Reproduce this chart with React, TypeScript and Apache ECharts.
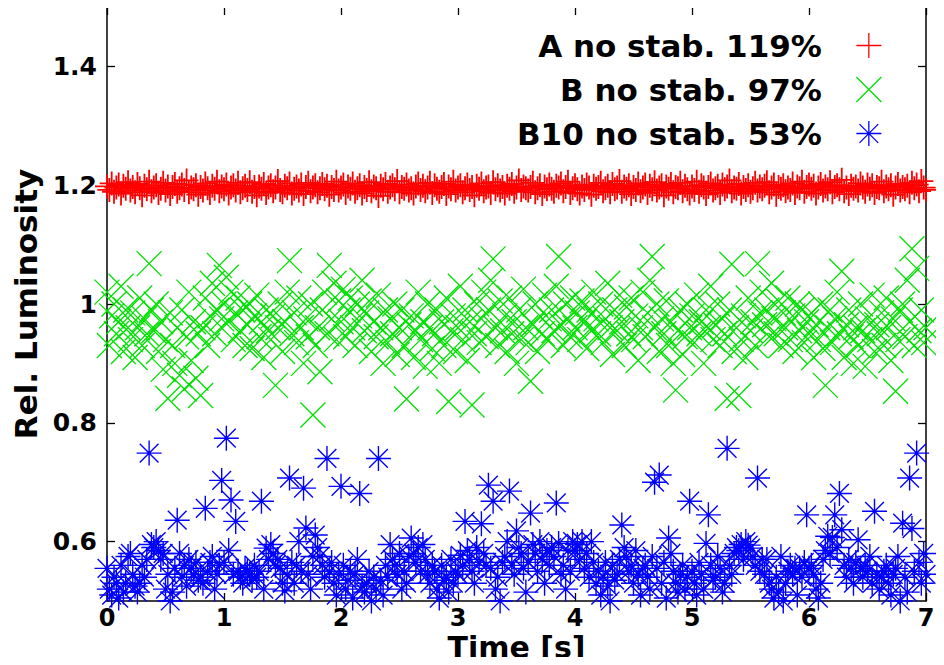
import { useEffect, useRef } from "react";
import * as echarts from "echarts";

// sampling step of the time series [s]
const TIME_STEP = 0.02;
const xTickValues = [0, 1, 2, 3, 4, 5, 6, 7];
const yTickValues = [0.6, 0.8, 1, 1.2, 1.4];
const seriesNames = ["A no stab. 119%", "B no stab. 97%", "B10 no stab. 53%"];
const seriesColors = ["#ff0000", "#00e000", "#0000ff"];

// A no stab. (red +)
const lumA = [
  1.198, 1.192, 1.203, 1.189, 1.196, 1.201, 1.186, 1.199, 1.194, 1.205,
  1.191, 1.197, 1.188, 1.202, 1.195, 1.183, 1.199, 1.193, 1.206, 1.19,
  1.196, 1.2, 1.187, 1.194, 1.204, 1.191, 1.198, 1.185, 1.197, 1.202,
  1.189, 1.195, 1.201, 1.192, 1.208, 1.188, 1.196, 1.193, 1.2, 1.184,
  1.197, 1.191, 1.203, 1.195, 1.187, 1.199, 1.194, 1.206, 1.19, 1.198,
  1.193, 1.201, 1.186, 1.196, 1.2, 1.191, 1.204, 1.188, 1.195, 1.199,
  1.192, 1.205, 1.189, 1.197, 1.183, 1.198, 1.194, 1.202, 1.187, 1.196,
  1.2, 1.19, 1.196, 1.207, 1.192, 1.188, 1.199, 1.195, 1.203, 1.186,
  1.194, 1.198, 1.191, 1.201, 1.185, 1.197, 1.204, 1.19, 1.196, 1.2,
  1.188, 1.195, 1.202, 1.193, 1.199, 1.184, 1.197, 1.192, 1.206, 1.191,
  1.196, 1.201, 1.187, 1.198, 1.194, 1.203, 1.189, 1.195, 1.2, 1.186,
  1.197, 1.192, 1.205, 1.19, 1.198, 1.195, 1.182, 1.199, 1.193, 1.202,
  1.189, 1.196, 1.2, 1.193, 1.207, 1.188, 1.197, 1.194, 1.201, 1.191,
  1.195, 1.186, 1.198, 1.203, 1.192, 1.199, 1.19, 1.196, 1.204, 1.187,
  1.2, 1.194, 1.189, 1.197, 1.202, 1.185, 1.198, 1.193, 1.206, 1.191,
  1.196, 1.2, 1.188, 1.195, 1.201, 1.192, 1.197, 1.183, 1.199, 1.194,
  1.203, 1.19, 1.196, 1.198, 1.187, 1.205, 1.193, 1.2, 1.191, 1.197,
  1.186, 1.199, 1.194, 1.202, 1.189, 1.196, 1.208, 1.192, 1.198, 1.195,
  1.191, 1.197, 1.204, 1.188, 1.195, 1.2, 1.185, 1.198, 1.193, 1.201,
  1.194, 1.189, 1.199, 1.196, 1.203, 1.19, 1.197, 1.206, 1.187, 1.195,
  1.2, 1.193, 1.186, 1.198, 1.192, 1.201, 1.196, 1.184, 1.199, 1.194,
  1.197, 1.204, 1.19, 1.195, 1.199, 1.188, 1.202, 1.193, 1.196, 1.207,
  1.189, 1.198, 1.194, 1.2, 1.185, 1.197, 1.192, 1.203, 1.19, 1.196,
  1.201, 1.187, 1.199, 1.193, 1.205, 1.191, 1.196, 1.2, 1.183, 1.198,
  1.194, 1.202, 1.188, 1.197, 1.195, 1.204, 1.19, 1.199, 1.193, 1.186,
  1.198, 1.192, 1.206, 1.189, 1.2, 1.196, 1.185, 1.197, 1.203, 1.191,
  1.195, 1.199, 1.187, 1.201, 1.193, 1.198, 1.208, 1.19, 1.196, 1.194,
  1.202, 1.186, 1.197, 1.192, 1.2, 1.189, 1.195, 1.204, 1.191, 1.198,
  1.193, 1.199, 1.205, 1.188, 1.196, 1.201, 1.184, 1.197, 1.194, 1.2,
  1.19, 1.196, 1.192, 1.203, 1.187, 1.198, 1.195, 1.206, 1.189, 1.197,
  1.201, 1.194, 1.199, 1.186, 1.196, 1.202, 1.191, 1.198, 1.193, 1.205,
  1.188, 1.197, 1.2, 1.193, 1.209, 1.19, 1.196, 1.185, 1.199, 1.194,
  1.198, 1.191, 1.203, 1.196, 1.189, 1.201, 1.194, 1.2, 1.187, 1.197,
  1.195, 1.206, 1.19, 1.198, 1.193, 1.2, 1.184, 1.196, 1.202, 1.191,
  1.197, 1.193, 1.199, 1.188, 1.204, 1.195, 1.201, 1.19, 1.207, 1.196,
  1.192,
];

// B no stab. (green x)
const lumB = [
  1.02, 0.93, 0.98, 1.0, 0.95, 0.97, 1.03, 0.92, 0.99, 0.96,
  0.94, 0.985, 0.91, 0.96, 1.01, 0.93, 0.975, 0.95, 1.068, 0.99,
  0.955, 1.0, 0.92, 0.97, 0.89, 0.94, 0.841, 0.985, 0.93, 0.9,
  0.96, 0.88, 0.99, 0.857, 0.945, 1.02, 0.905, 0.97, 0.875, 0.95,
  0.846, 0.96, 1.01, 0.93, 0.98, 1.035, 0.95, 0.99, 1.065, 0.975,
  1.0, 1.045, 0.97, 1.02, 0.94, 0.985, 1.01, 0.955, 0.99, 0.93,
  0.965, 1.0, 0.925, 0.98, 1.015, 0.945, 0.97, 0.91, 0.99, 0.955,
  0.94, 0.98, 0.863, 0.96, 1.0, 0.92, 0.97, 1.02, 1.073, 0.95,
  0.985, 0.935, 1.01, 0.96, 0.9, 0.975, 0.945, 1.0, 0.813, 0.93,
  0.96, 0.886, 0.99, 1.02, 0.95, 1.065, 0.975, 1.035, 0.94, 1.005,
  0.97, 1.025, 0.945, 0.99, 1.01, 0.96, 0.93, 1.0, 0.98, 1.04,
  0.955, 0.985, 1.005, 0.92, 0.97, 0.945, 1.015, 0.96, 0.9, 0.99,
  0.935, 0.975, 0.95, 1.0, 0.915, 0.96, 0.99, 0.93, 0.84, 0.965,
  0.98, 0.91, 0.955, 1.02, 0.94, 0.97, 0.895, 1.0, 0.96, 0.925,
  0.95, 0.99, 0.9, 0.97, 0.93, 1.01, 0.836, 0.955, 0.98, 0.92,
  0.96, 1.03, 0.94, 0.99, 0.905, 0.97, 0.83, 0.95, 1.0, 0.935,
  0.975, 1.02, 0.945, 0.99, 1.04, 1.076, 0.96, 0.93, 1.005, 0.955,
  0.98, 0.92, 1.01, 0.95, 0.97, 0.9, 0.99, 0.94, 1.025, 0.96,
  0.935, 0.87, 0.965, 1.0, 0.92, 0.98, 0.95, 1.015, 0.94, 0.975,
  0.99, 0.955, 1.03, 1.08, 0.965, 0.93, 1.0, 0.975, 0.945, 1.01,
  0.96, 0.985, 0.94, 1.005, 0.97, 0.925, 0.99, 0.955, 1.02, 0.975,
  0.95, 1.0, 0.935, 0.975, 1.035, 0.96, 0.915, 0.99, 0.955, 1.015,
  0.97, 0.93, 0.995, 0.95, 1.01, 0.94, 0.98, 0.905, 0.96, 1.02,
  0.945, 0.985, 1.04, 1.08, 0.96, 1.0, 0.92, 0.975, 0.95, 1.005,
  0.93, 0.97, 0.9, 0.855, 0.955, 0.99, 0.915, 0.945, 1.0, 0.96,
  0.98, 0.935, 1.015, 0.95, 0.97, 0.9, 0.99, 0.96, 1.03, 0.94,
  0.965, 1.0, 0.93, 0.975, 0.95, 0.841, 0.99, 1.067, 0.92, 0.96,
  0.846, 0.94, 0.98, 0.91, 1.01, 0.955, 0.97, 0.93, 1.068, 0.985,
  1.02, 0.965, 0.99, 0.945, 1.035, 0.975, 0.95, 1.005, 0.93, 0.985,
  0.96, 1.01, 0.94, 0.98, 0.92, 1.0, 0.955, 0.99, 0.935, 0.97,
  0.95, 0.985, 0.91, 0.965, 0.94, 1.0, 0.925, 0.863, 0.96, 0.99,
  0.935, 0.975, 1.02, 0.95, 1.055, 0.91, 0.965, 0.99, 0.945, 0.9,
  0.96, 0.93, 1.0, 0.955, 0.895, 0.975, 0.94, 1.015, 0.92, 0.965,
  0.95, 0.985, 0.93, 1.01, 0.96, 0.905, 0.975, 0.853, 0.94, 0.99,
  1.0, 0.945, 1.04, 0.97, 1.093, 0.93, 1.06, 0.955, 0.99, 0.935,
  0.96,
];

// B10 no stab. (blue *)
const lumB10 = [
  0.555, 0.52, 0.51, 0.54, 0.53, 0.505, 0.56, 0.515, 0.53, 0.575,
  0.58, 0.545, 0.525, 0.515, 0.53, 0.56, 0.54, 0.57, 0.749, 0.595,
  0.59, 0.6, 0.585, 0.57, 0.58, 0.52, 0.545, 0.5, 0.515, 0.555,
  0.636, 0.58, 0.54, 0.56, 0.525, 0.57, 0.555, 0.545, 0.565, 0.535,
  0.54, 0.53, 0.656, 0.55, 0.565, 0.575, 0.52, 0.545, 0.56, 0.703,
  0.565, 0.774, 0.585, 0.67, 0.545, 0.634, 0.55, 0.54, 0.53, 0.555,
  0.55, 0.545, 0.535, 0.56, 0.54, 0.55, 0.668, 0.52, 0.589, 0.57,
  0.595, 0.58, 0.56, 0.57, 0.555, 0.53, 0.517, 0.545, 0.707, 0.565,
  0.53, 0.56, 0.6, 0.55, 0.69, 0.623, 0.545, 0.52, 0.575, 0.611,
  0.59, 0.575, 0.56, 0.54, 0.74, 0.55, 0.565, 0.53, 0.51, 0.545,
  0.693, 0.56, 0.52, 0.535, 0.55, 0.505, 0.545, 0.57, 0.681, 0.525,
  0.515, 0.53, 0.55, 0.5, 0.54, 0.52, 0.74, 0.535, 0.51, 0.56,
  0.54, 0.595, 0.57, 0.56, 0.545, 0.58, 0.52, 0.55, 0.53, 0.575,
  0.606, 0.58, 0.565, 0.59, 0.55, 0.595, 0.57, 0.545, 0.53, 0.56,
  0.55, 0.52, 0.505, 0.56, 0.535, 0.54, 0.515, 0.57, 0.53, 0.55,
  0.545, 0.577, 0.56, 0.634, 0.585, 0.57, 0.55, 0.53, 0.59, 0.565,
  0.63, 0.58, 0.56, 0.695, 0.555, 0.668, 0.52, 0.54, 0.5, 0.565,
  0.575, 0.6, 0.685, 0.56, 0.545, 0.618, 0.59, 0.58, 0.555, 0.515,
  0.565, 0.648, 0.595, 0.58, 0.55, 0.6, 0.57, 0.53, 0.585, 0.56,
  0.59, 0.575, 0.665, 0.597, 0.545, 0.56, 0.52, 0.585, 0.55, 0.6,
  0.585, 0.595, 0.57, 0.6, 0.555, 0.58, 0.54, 0.6, 0.565, 0.53,
  0.55, 0.51, 0.54, 0.565, 0.525, 0.5, 0.56, 0.535, 0.545, 0.57,
  0.628, 0.59, 0.575, 0.55, 0.56, 0.53, 0.585, 0.545, 0.51, 0.555,
  0.56, 0.54, 0.52, 0.575, 0.7, 0.555, 0.712, 0.53, 0.565, 0.505,
  0.606, 0.58, 0.55, 0.53, 0.515, 0.545, 0.56, 0.52, 0.54, 0.668,
  0.55, 0.53, 0.51, 0.565, 0.545, 0.52, 0.597, 0.645, 0.56, 0.535,
  0.54, 0.575, 0.555, 0.515, 0.53, 0.757, 0.56, 0.545, 0.58, 0.59,
  0.585, 0.595, 0.57, 0.6, 0.594, 0.589, 0.575, 0.56, 0.707, 0.55,
  0.57, 0.545, 0.57, 0.53, 0.52, 0.505, 0.54, 0.515, 0.575, 0.5,
  0.53, 0.55, 0.56, 0.545, 0.555, 0.51, 0.555, 0.54, 0.565, 0.645,
  0.555, 0.56, 0.545, 0.52, 0.505, 0.53, 0.57, 0.585, 0.609, 0.58,
  0.607, 0.645, 0.59, 0.681, 0.62, 0.56, 0.54, 0.57, 0.555, 0.53,
  0.565, 0.603, 0.555, 0.54, 0.56, 0.55, 0.575, 0.53, 0.651, 0.545,
  0.52, 0.54, 0.55, 0.56, 0.53, 0.51, 0.545, 0.555, 0.575, 0.5,
  0.631, 0.54, 0.515, 0.707, 0.622, 0.55, 0.749, 0.565, 0.53, 0.58,
  0.545,
];

const PLUS = "path://M0 12H24M12 0V24";
const CROSS = "path://M0 0L24 24M24 0L0 24";
const STAR = "path://M0 12H24M12 0V24M3 3L21 21M21 3L3 21";
const symbols = [PLUS, CROSS, STAR];
const lineWidths = [1.8, 1.3, 1.4];

const FONT = "DejaVu Sans";

function toPoints(values: number[]) {
  return values.map((v, i) => [Math.round(i * TIME_STEP * 100) / 100, v]);
}

export default function App() {
  const ref = useRef<HTMLDivElement>(null);
  useEffect(() => {
    if (!ref.current) return;
    const chart = echarts.init(ref.current, undefined, { renderer: "svg" });
    const lineStyle = { color: "#000", width: 1.5 };
    const tickStyle = { color: "#000", width: 1.3 };
    const labelFont = { fontFamily: FONT, fontWeight: "bold" as const, color: "#000" };
    const data = [lumA, lumB, lumB10];
    chart.setOption({
      animation: false,
      backgroundColor: "#fff",
      grid: { left: 107, right: 18, top: 7, bottom: 64, containLabel: false, outerBoundsMode: "none" },
      legend: {
        orient: "vertical",
        right: 57,
        top: 25,
        align: "right",
        itemWidth: 84,
        itemHeight: 25,
        itemGap: 13,
        selectedMode: false,
        textStyle: { ...labelFont, fontSize: 31 },
        data: seriesNames.map((name, i) => ({
          name,
          icon: symbols[i],
          itemStyle: { color: "transparent", borderColor: seriesColors[i], borderWidth: 1.3 },
        })),
      },
      xAxis: [
        {
          type: "value",
          min: 0,
          max: 7,
          interval: 1,
          position: "bottom",
          axisLine: { show: true, onZero: false, lineStyle },
          axisTick: { show: true, inside: true, length: 8, lineStyle: tickStyle, customValues: xTickValues },
          axisLabel: { ...labelFont, fontSize: 24, margin: 5, lineHeight: 24, customValues: xTickValues },
          splitLine: { show: false },
          name: "Time [s]",
          nameLocation: "middle",
          nameGap: 31,
          nameMoveOverlap: false,
          nameTextStyle: { ...labelFont, fontSize: 30, lineHeight: 30 },
        },
        {
          type: "value",
          min: 0,
          max: 7,
          interval: 1,
          position: "top",
          axisLine: { show: true, onZero: false, lineStyle },
          axisTick: { show: true, inside: true, length: 8, lineStyle: tickStyle, customValues: xTickValues },
          axisLabel: { show: false },
          splitLine: { show: false },
        },
      ],
      yAxis: [
        {
          type: "value",
          min: 0.5,
          max: 1.5,
          position: "left",
          axisLine: { show: true, onZero: false, lineStyle },
          axisTick: { show: true, inside: true, length: 8, lineStyle: tickStyle, customValues: yTickValues },
          axisLabel: { ...labelFont, fontSize: 25, margin: 10, customValues: yTickValues, formatter: (v: number) => String(v) },
          splitLine: { show: false },
          name: "Rel. Luminosity",
          nameLocation: "middle",
          nameGap: 62,
          nameRotate: 90,
          nameTextStyle: { ...labelFont, fontSize: 31 },
        },
        {
          type: "value",
          min: 0.5,
          max: 1.5,
          position: "right",
          axisLine: { show: true, onZero: false, lineStyle },
          axisTick: { show: true, inside: true, length: 8, lineStyle: tickStyle, customValues: yTickValues },
          axisLabel: { show: false },
          splitLine: { show: false },
        },
      ],
      series: seriesNames.map((name, i) => ({
        name,
        type: "scatter",
        xAxisIndex: 0,
        yAxisIndex: 0,
        symbol: symbols[i],
        symbolSize: i === 0 ? 24 : 25,
        clip: false,
        silent: true,
        itemStyle: { color: "transparent", borderColor: seriesColors[i], borderWidth: lineWidths[i], opacity: 1 },
        emphasis: { disabled: true },
        data: toPoints(data[i]),
      })),
    });
    return () => chart.dispose();
  }, []);
  return <div ref={ref} style={{ width: 944, height: 665, margin: -8 }} />;
}
